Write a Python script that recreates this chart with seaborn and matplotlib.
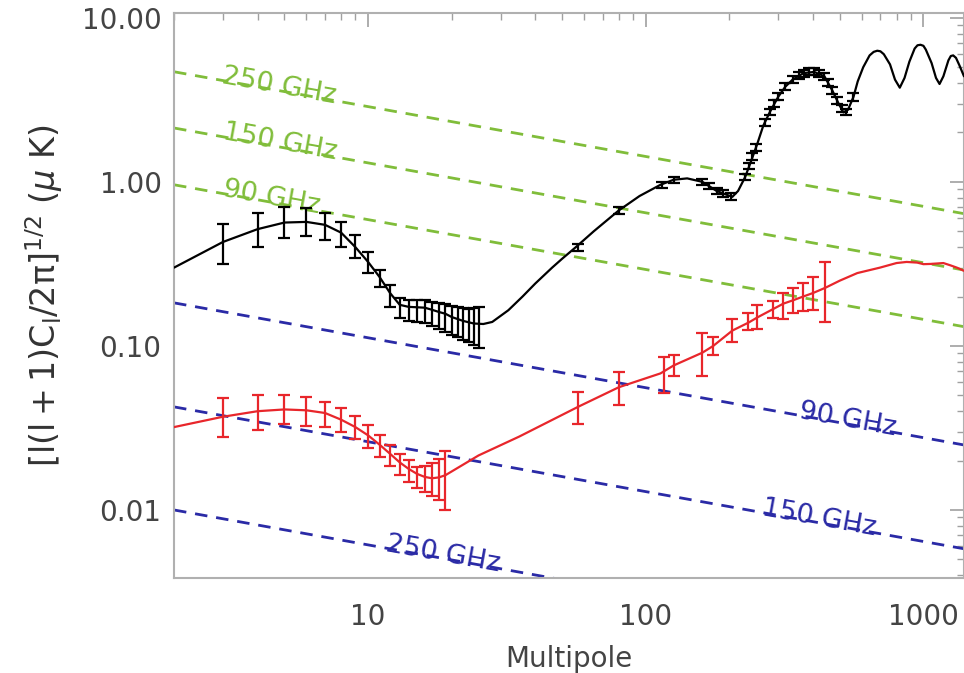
import numpy as np
import pandas as pd
import seaborn as sns
import matplotlib.pyplot as plt
from matplotlib.ticker import FixedLocator, FormatStrFormatter, LogLocator, NullFormatter

# ---- data ----
# E-mode model curve (black)
ee_ell = [2, 3, 4, 5, 6, 7, 8, 9, 10, 11, 12, 13, 14, 15, 16, 17, 18, 19, 20, 22, 24, 26,
          28, 32, 36, 40, 46, 50, 56, 65, 80, 95, 113, 126, 141, 160, 180, 205, 215, 228,
          240, 252, 265, 280, 300, 318, 338, 370, 404, 440, 470, 495, 515, 535, 560, 580,
          607, 640, 662, 682, 700, 720, 758, 790, 822, 855, 890, 930, 952, 976, 1000,
          1020, 1070, 1110, 1143, 1180, 1230, 1255, 1280, 1310, 1350, 1400]
ee_val = [0.30, 0.43, 0.515, 0.565, 0.57, 0.547, 0.49, 0.40, 0.325, 0.263, 0.21, 0.178,
          0.173, 0.172, 0.171, 0.166, 0.161, 0.157, 0.150, 0.142, 0.137, 0.136, 0.140,
          0.165, 0.20, 0.24, 0.30, 0.34, 0.40, 0.50, 0.67, 0.82, 0.96, 1.03, 1.05, 1.0,
          0.88, 0.81, 0.88, 1.07, 1.35, 1.7, 2.2, 2.67, 3.3, 3.8, 4.2, 4.6, 4.68, 4.4,
          3.6, 3.0, 2.65, 2.75, 3.3, 4.1, 5.0, 5.9, 6.2, 6.3, 6.25, 6.0, 5.2, 4.2, 3.75,
          4.3, 5.4, 6.5, 6.8, 6.85, 6.75, 6.4, 5.3, 4.3, 3.95, 4.4, 5.5, 5.85, 5.9, 5.7,
          5.1, 4.4]

# E-mode binned points with error bars
ee_pt_ell = [3, 4, 5, 6, 7, 8, 9, 10, 11, 12, 13, 14, 15, 16, 17, 18, 19, 20, 21, 22, 23,
             24, 25, 57, 80, 114, 126, 159, 169, 181, 190, 203, 228, 235, 242, 250, 268,
             280, 290, 300, 318, 338, 355, 370, 387, 404, 420, 440, 455, 470, 490, 507,
             527, 558]
ee_pt_val = [0.43, 0.515, 0.565, 0.57, 0.547, 0.49, 0.40, 0.325, 0.263, 0.21, 0.178, 0.173,
             0.172, 0.171, 0.166, 0.161, 0.157, 0.150, 0.146, 0.142, 0.138, 0.137, 0.135,
             0.40, 0.67, 0.96, 1.03, 1.0, 0.94, 0.88, 0.85, 0.81, 1.07, 1.25, 1.42, 1.63,
             2.3, 2.67, 3.0, 3.3, 3.8, 4.2, 4.45, 4.6, 4.68, 4.68, 4.6, 4.4, 4.05, 3.6,
             3.15, 2.8, 2.67, 3.3]
ee_pt_lo = [0.316, 0.401, 0.456, 0.47, 0.443, 0.40, 0.344, 0.279, 0.229, 0.173, 0.148,
            0.142, 0.14, 0.137, 0.132, 0.127, 0.122, 0.117, 0.113, 0.109, 0.105, 0.101,
            0.097, 0.38, 0.64, 0.92, 0.99, 0.96, 0.90, 0.84, 0.81, 0.77, 1.02, 1.19, 1.35,
            1.55, 2.19, 2.54, 2.85, 3.14, 3.61, 3.99, 4.23, 4.37, 4.45, 4.45, 4.37, 4.18,
            3.85, 3.42, 2.99, 2.66, 2.54, 3.1]
ee_pt_hi = [0.555, 0.647, 0.704, 0.69, 0.647, 0.57, 0.475, 0.374, 0.29, 0.235, 0.195,
            0.19, 0.19, 0.19, 0.186, 0.182, 0.18, 0.176, 0.173, 0.171, 0.169, 0.17, 0.173,
            0.42, 0.70, 1.0, 1.07, 1.04, 0.98, 0.92, 0.89, 0.85, 1.12, 1.31, 1.49, 1.71,
            2.41, 2.80, 3.15, 3.46, 3.99, 4.41, 4.67, 4.83, 4.91, 4.91, 4.83, 4.62, 4.25,
            3.78, 3.31, 2.94, 2.80, 3.5]

# B-mode model curve (red)
bb_ell = [2, 3, 4, 5, 6, 7, 8, 9, 10, 11, 12, 13, 14, 15, 16, 17, 18, 19, 25, 35, 57, 80,
          113, 126, 160, 175, 205, 235, 252, 288, 313, 340, 369, 400, 443, 500, 578, 697,
          800, 870, 950, 1000, 1060, 1120, 1180, 1250, 1320, 1400]
bb_val = [0.032, 0.037, 0.040, 0.041, 0.0405, 0.039, 0.0355, 0.032, 0.0285, 0.025, 0.022,
          0.0195, 0.0178, 0.0166, 0.0159, 0.0156, 0.0158, 0.0163, 0.0215, 0.028, 0.0425,
          0.056, 0.068, 0.076, 0.091, 0.100, 0.124, 0.139, 0.149, 0.168, 0.181, 0.19, 0.20,
          0.21, 0.226, 0.25, 0.278, 0.30, 0.32, 0.325, 0.322, 0.315, 0.316, 0.318, 0.32,
          0.31, 0.30, 0.287]

# B-mode binned points with error bars
bb_pt_ell = [3, 4, 5, 6, 7, 8, 9, 10, 11, 12, 13, 14, 15, 16, 17, 18, 19, 57, 80, 116, 126,
             159, 174, 204, 234, 252, 288, 313, 340, 369, 400, 443]
bb_pt_val = [0.038, 0.0407, 0.041, 0.0407, 0.039, 0.0355, 0.032, 0.0287, 0.0249, 0.0219,
             0.0194, 0.0178, 0.0166, 0.016, 0.0156, 0.016, 0.0163, 0.0425, 0.0562, 0.066,
             0.0764, 0.0908, 0.101, 0.125, 0.14, 0.15, 0.17, 0.183, 0.19, 0.2, 0.21, 0.229]
bb_pt_lo = [0.0279, 0.0307, 0.0334, 0.0327, 0.032, 0.030, 0.027, 0.024, 0.0211, 0.0186,
            0.0163, 0.0148, 0.0137, 0.0129, 0.0121, 0.0115, 0.0100, 0.0334, 0.0438, 0.0516,
            0.066, 0.066, 0.088, 0.106, 0.125, 0.127, 0.148, 0.146, 0.159, 0.164, 0.166, 0.14]
bb_pt_hi = [0.048, 0.050, 0.050, 0.049, 0.0456, 0.042, 0.0375, 0.033, 0.0287, 0.0249,
            0.0219, 0.0203, 0.0183, 0.0185, 0.0194, 0.0205, 0.0229, 0.0525, 0.0694, 0.0859,
            0.088, 0.12, 0.113, 0.146, 0.159, 0.178, 0.188, 0.21, 0.226, 0.242, 0.263, 0.325]

# foreground levels (dashed): value at ell=2 and ell=1400
fg_freq = ["250 GHz", "150 GHz", "90 GHz", "90 GHz", "150 GHz", "250 GHz"]
fg_kind = ["E", "E", "E", "B", "B", "B"]
fg_ell = [2, 1400]
fg_left = [4.69, 2.13, 0.96, 0.183, 0.0425, 0.0100]
fg_right = [0.64, 0.29, 0.131, 0.0249, 0.0058, 0.00136]
fg_label_ell = [2.95, 2.97, 2.97, 352, 259, 11.5]

green = "#80bd3a"
blue = "#2a2aa6"
red = "#e8262b"

sns.set_theme(style="white")
plt.rcParams['font.family'] = ['DejaVu Sans']
plt.rcParams['mathtext.fontset'] = 'dejavusans'

fig = plt.figure(figsize=(9.64, 6.73), dpi=100)
ax = fig.add_axes([0.1805, 0.1412, 0.8195, 0.8395])
ax.set(xscale="log", yscale="log")
ax.set_xlim(2, 1400)
ax.set_ylim(0.00385, 10.7)

fg = pd.DataFrame({
    "line": np.repeat(np.arange(len(fg_freq)), 2),
    "ell": fg_ell * len(fg_freq),
    "val": [v for pair in zip(fg_left, fg_right) for v in pair],
})
for i, kind in enumerate(fg_kind):
    col = green if kind == "E" else blue
    sub = fg[fg["line"] == i]
    sns.lineplot(data=sub, x="ell", y="val", ax=ax, color=col, lw=2.0,
                 linestyle=(0, (4.5, 3.2)), estimator=None, sort=False, zorder=1)

# labels sitting on the dashed lines
for i, kind in enumerate(fg_kind):
    col = green if kind == "E" else blue
    slope = np.log(fg_right[i] / fg_left[i]) / np.log(fg_ell[1] / fg_ell[0])
    lx = fg_label_ell[i]
    ly = fg_left[i] * (lx / fg_ell[0]) ** slope
    p0 = ax.transData.transform((fg_ell[0], fg_left[i]))
    p1 = ax.transData.transform((fg_ell[1], fg_right[i]))
    ang = np.degrees(np.arctan2(p1[1] - p0[1], p1[0] - p0[0]))
    ax.text(lx, ly * 0.96, fg_freq[i], color=col, fontsize=19.5, rotation=ang,
            rotation_mode="anchor", ha="left", va="baseline", zorder=2)

sns.lineplot(x=ee_ell, y=ee_val, ax=ax, color="black", lw=1.6, estimator=None,
             sort=False, zorder=3)
sns.lineplot(x=bb_ell, y=bb_val, ax=ax, color=red, lw=1.6, estimator=None,
             sort=False, zorder=3)

ee_v = np.array(ee_pt_val)
ax.errorbar(ee_pt_ell, ee_v, yerr=[ee_v - np.array(ee_pt_lo), np.array(ee_pt_hi) - ee_v],
            fmt="none", ecolor="black", elinewidth=1.6, capsize=4, capthick=1.6, zorder=4)
bb_v = np.array(bb_pt_val)
ax.errorbar(bb_pt_ell, bb_v, yerr=[bb_v - np.array(bb_pt_lo), np.array(bb_pt_hi) - bb_v],
            fmt="none", ecolor=red, elinewidth=1.6, capsize=4, capthick=1.6, zorder=4)

# axes styling (IDL look)
ax.yaxis.set_major_locator(FixedLocator([0.01, 0.1, 1, 10]))
ax.yaxis.set_major_formatter(FormatStrFormatter("%.2f"))
ax.yaxis.set_minor_locator(LogLocator(base=10, subs=np.arange(2, 10)))
ax.yaxis.set_minor_formatter(NullFormatter())
ax.xaxis.set_major_locator(FixedLocator([10, 100, 1000]))
ax.xaxis.set_major_formatter(FormatStrFormatter("%d"))
ax.xaxis.set_minor_locator(LogLocator(base=10, subs=np.arange(2, 10)))
ax.xaxis.set_minor_formatter(NullFormatter())

for s in ax.spines.values():
    s.set_color("#b0b0b0")
    s.set_linewidth(1.5)
ax.tick_params(which="both", direction="in", top=True, right=True, color="#a0a0a0")
ax.tick_params(which="major", length=10, width=1.2, labelsize=20, labelcolor="#444444")
ax.tick_params(which="minor", length=5, width=1.0)
ax.tick_params(axis="x", which="major", pad=18)
ax.tick_params(axis="y", which="major", pad=9)

ax.set_xlabel("Multipole", fontsize=20, color="#444444", labelpad=10)
ax.set_ylabel(r"$\mathregular{[l(l+1)C_l/2\pi]^{1/2}}$ ($\mu$ K)", fontsize=24,
              color="#333333", labelpad=12)
ax.grid(False)

fig.savefig("out.png", dpi=100)
